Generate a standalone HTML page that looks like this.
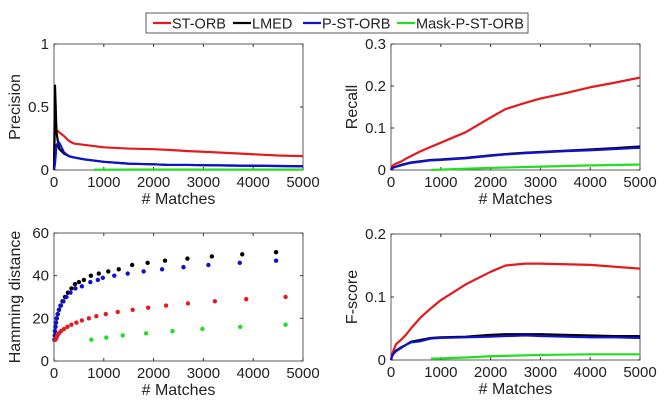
<!DOCTYPE html>
<html><head><meta charset="utf-8"><style>
body{margin:0;background:#fff;font-family:"Liberation Sans",sans-serif;}
svg{display:block}
text{font-family:"Liberation Sans",sans-serif;fill:#222}
</style></head><body>
<svg id="c" width="665" height="414"></svg>
<script>
const xs = [0,20,50,100,200,300,400,600,800,1000,1500,2000,2300,2700,3000,3500,4000,4500,5000];
const precST = [0,0.38,0.32,0.30,0.27,0.23,0.21,0.20,0.19,0.18,0.17,0.165,0.16,0.15,0.145,0.135,0.125,0.115,0.11];
const precLM = [0,0.67,0.30,0.17,0.13,0.11,0.10,0.085,0.075,0.065,0.05,0.045,0.04,0.04,0.038,0.036,0.034,0.032,0.03];
const precP = [0,0.05,0.20,0.22,0.14,0.11,0.10,0.085,0.075,0.065,0.05,0.045,0.04,0.04,0.038,0.036,0.034,0.032,0.03];
const maskX = [800,1500,2000,3000,4000,5000];
const precM = [0.002,0.003,0.003,0.003,0.003,0.003];
const recST = [0,0.008,0.012,0.015,0.02,0.027,0.033,0.045,0.055,0.065,0.09,0.125,0.145,0.16,0.17,0.183,0.197,0.208,0.22];
const recLM = [0,0.004,0.006,0.008,0.012,0.015,0.018,0.021,0.024,0.025,0.029,0.035,0.038,0.041,0.043,0.046,0.049,0.052,0.056];
const recP = [0,0.004,0.006,0.008,0.011,0.014,0.017,0.02,0.023,0.024,0.028,0.034,0.037,0.04,0.042,0.045,0.047,0.05,0.053];
const recM = [0,0.003,0.005,0.008,0.011,0.013];
const fsST = [0,0.008,0.015,0.025,0.032,0.04,0.05,0.068,0.082,0.095,0.12,0.14,0.15,0.153,0.153,0.152,0.151,0.148,0.145];
const fsLM = [0,0.006,0.01,0.015,0.02,0.024,0.029,0.032,0.035,0.036,0.037,0.04,0.041,0.041,0.041,0.04,0.039,0.038,0.038];
const fsP = [0,0.006,0.01,0.014,0.019,0.024,0.028,0.03,0.034,0.035,0.036,0.037,0.038,0.039,0.038,0.037,0.036,0.036,0.035];
const fsM = [0.002,0.004,0.006,0.008,0.009,0.009];
const hamXST = [30,50,70,100,140,200,270,350,450,560,700,850,1040,1280,1580,1890,2250,2690,3230,3860,4650];
const hamST = [10,11,12,13,14,15,16,17,18,19,20,21,22,23,24,25,26,27,28,29,30];
const hamXLM = [10,15,20,30,40,55,75,100,130,170,220,280,350,420,500,600,740,900,1090,1300,1570,1880,2230,2680,3170,3780,4460];
const hamLM = [10,12,14,16,18,20,22,24,26,28,30,32,34,36,37,38,40,41,42,43,45,46,47,48,49,50,51];
const hamXP = [10,15,20,30,40,55,75,100,140,190,250,330,430,560,730,880,980,1210,1480,1800,2170,2600,3100,3730,4460];
const hamP = [10,12,14,16,18,20,22,24,26,28,30,32,34,35,37,38,39,40,41,42,43,44,45,46,47];
const hamXM = [750,1050,1380,1850,2380,2980,3740,4650];
const hamM = [10,11,12,13,14,15,16,17];
const xTicks = [0,1000,2000,3000,4000,5000];

const svg=document.getElementById('c');
const NS='http://www.w3.org/2000/svg';
function mk(t,a,p){const e=document.createElementNS(NS,t);for(const k in a)e.setAttribute(k,a[k]);(p||svg).appendChild(e);return e;}
const colors={st:'#e41a1c',lm:'#000',p:'#1010d0',m:'#22dd22'};
function panel(name,x0,x1,yTop,yBot,ymax,yTicks,yLabels,ylab){
  const g=mk('g',{});
  
  
  const sx=v=>x0+(v/5000)*(x1-x0);
  const sy=v=>yBot-(v/ymax)*(yBot-yTop);
  mk('rect',{x:x0,y:yTop,width:x1-x0,height:yBot-yTop,fill:'none',stroke:'#333','stroke-width':0.8},g);
  xTicks.forEach(t=>{
    mk('line',{x1:sx(t),x2:sx(t),y1:yBot,y2:yBot-3,stroke:'#333'},g);
    mk('line',{x1:sx(t),x2:sx(t),y1:yTop,y2:yTop+3,stroke:'#333'},g);
    const tx=mk('text',{x:sx(t),y:yBot+17,'text-anchor':'middle','font-size':15},g);tx.textContent=t;
    
    
  });
  yTicks.forEach((t,i)=>{
    mk('line',{x1:x0,x2:x0+3,y1:sy(t),y2:sy(t),stroke:'#333'},g);
    mk('line',{x1:x1,x2:x1-3,y1:sy(t),y2:sy(t),stroke:'#333'},g);
    const tx=mk('text',{x:x0-5,y:sy(t)+5,'text-anchor':'end','font-size':15},g);tx.textContent=yLabels[i];
    
    
  });
  const xl=mk('text',{x:(x0+x1)/2,y:yBot+34,'text-anchor':'middle','font-size':16},g);xl.textContent='# Matches';
  
  
  const cy=(yTop+yBot)/2;
  const yl=mk('text',{x:x0-34,y:cy,'text-anchor':'middle','font-size':16,transform:`rotate(-90 ${x0-34} ${cy})`},g);yl.textContent=ylab;
  
  
  return {g,sx,sy};
}
function line(P,X,Y,c,n){
  const pl=mk('polyline',{points:X.map((x,i)=>P.sx(x)+','+P.sy(Y[i])).join(' '),fill:'none',stroke:c,'stroke-width':2.2,'stroke-linejoin':'round'},P.g);
  
  
}
function dots(P,X,Y,c,n){
  X.forEach((x,i)=>{const d=mk('circle',{cx:P.sx(x),cy:P.sy(Y[i]),r:2.2,fill:c},P.g);
  
  });
}
const A=panel('precision-panel',54,303,44,170,1,[0,0.5,1],['0','0.5','1'],'Precision');
line(A,xs,precST,colors.st,'precision-st-orb');line(A,xs,precLM,colors.lm,'precision-lmed');line(A,xs,precP,colors.p,'precision-p-st-orb');line(A,maskX,precM,colors.m,'precision-mask');
const B=panel('recall-panel',391,640,44,170,0.3,[0,0.1,0.2,0.3],['0','0.1','0.2','0.3'],'Recall');
line(B,xs,recST,colors.st,'recall-st-orb');line(B,xs,recLM,colors.lm,'recall-lmed');line(B,xs,recP,colors.p,'recall-p-st-orb');line(B,maskX,recM,colors.m,'recall-mask');
const C=panel('hamming-panel',54,303,233,361,60,[0,20,40,60],['0','20','40','60'],'Hamming distance');
dots(C,hamXLM,hamLM,colors.lm,'hamming-lmed-point');dots(C,hamXP,hamP,colors.p,'hamming-p-st-orb-point');dots(C,hamXST,hamST,colors.st,'hamming-st-orb-point');dots(C,hamXM,hamM,colors.m,'hamming-mask-point');
const D=panel('fscore-panel',391,640,234,360,0.2,[0,0.1,0.2],['0','0.1','0.2'],'F-score');
line(D,xs,fsST,colors.st,'fscore-st-orb');line(D,xs,fsLM,colors.lm,'fscore-lmed');line(D,xs,fsP,colors.p,'fscore-p-st-orb');line(D,maskX,fsM,colors.m,'fscore-mask');
// legend
const lg=mk('g',{});


mk('rect',{x:146,y:13,width:382,height:20,fill:'#fff',stroke:'#333','stroke-width':0.8},lg);
[['ST-ORB',colors.st,153],['LMED',colors.lm,233],['P-ST-ORB',colors.p,303],['Mask-P-ST-ORB',colors.m,397]].forEach(([t,c,x])=>{
  const e=mk('g',{},lg);
  
  
  mk('line',{x1:x,x2:x+18,y1:23,y2:23,stroke:c,'stroke-width':2.2},e);
  const tx=mk('text',{x:x+19,y:28.5,'font-size':14.5},e);tx.textContent=t;
});
</script>
</body></html>
